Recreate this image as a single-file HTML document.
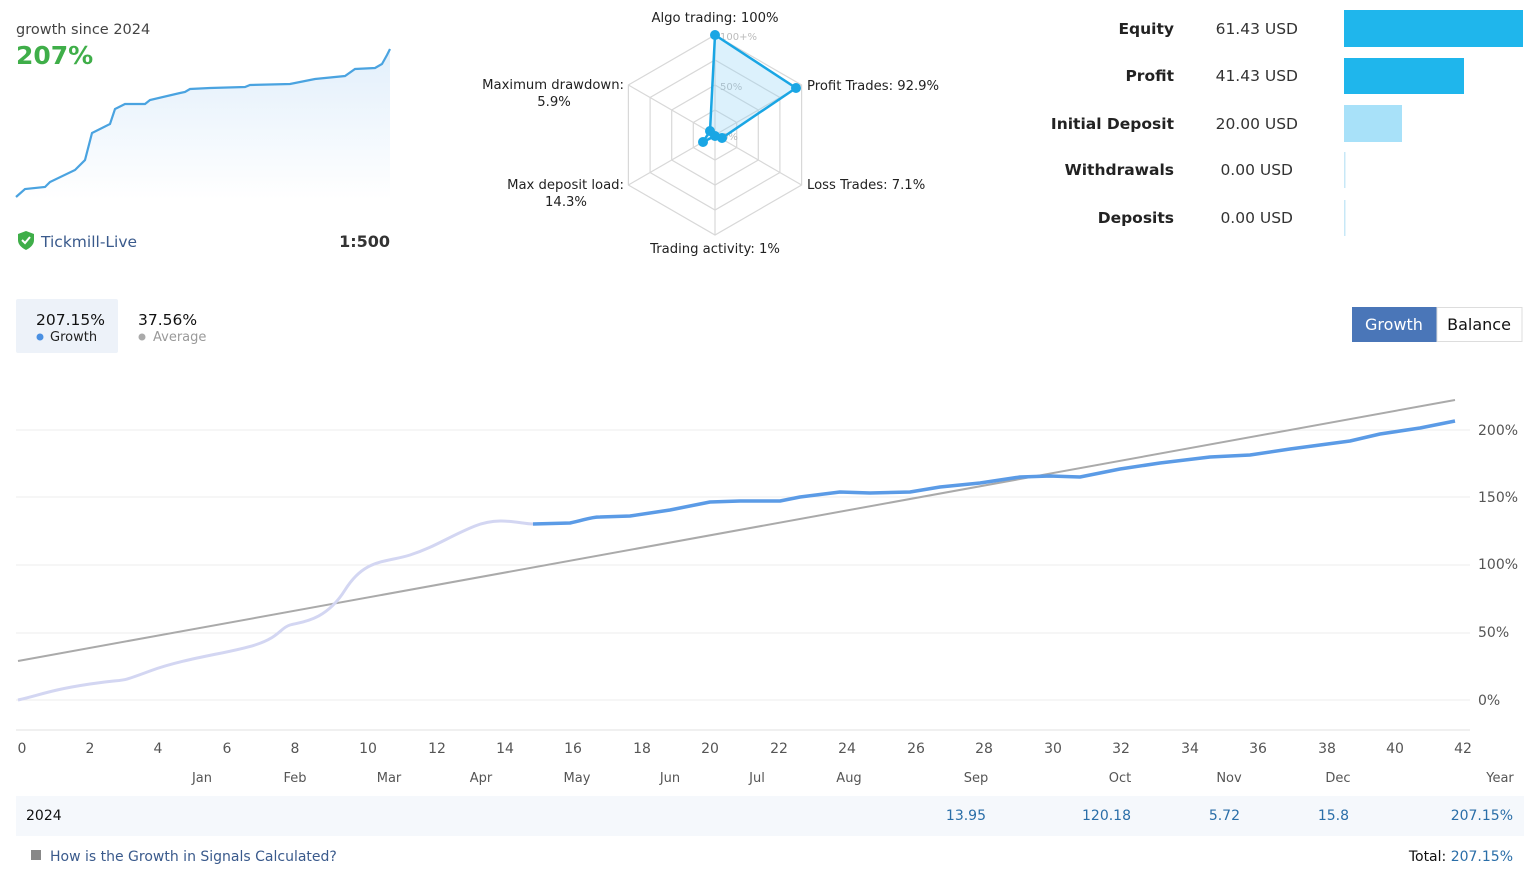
<!DOCTYPE html>
<html><head><meta charset="utf-8"><style>
html,body{margin:0;padding:0;background:#fff;width:1536px;height:872px;overflow:hidden}
svg{position:absolute;left:0;top:0}
text{font-family:"DejaVu Sans","Liberation Sans",sans-serif}
</style></head><body>
<svg width="1536" height="872" viewBox="0 0 1536 872" xmlns="http://www.w3.org/2000/svg">
<defs>
<linearGradient id="mg" x1="0" y1="0" x2="0" y2="1"><stop offset="0" stop-color="#e2effb"/><stop offset="1" stop-color="#ffffff"/></linearGradient>
</defs>
<!-- top-left -->
<text x="16" y="34" font-size="14.5" fill="#444">growth since 2024</text>
<text x="16" y="64" font-size="25" font-weight="bold" fill="#3fae49">207%</text>
<path d="M16,197 L25,189 45,187 50,182 75,170 85,160 92,133 110,124 115,109 125,104 145,104 150,100 180,93 185,92 190,89 210,88 245,87 250,85 290,84 310,80 315,79 345,76 355,69 375,68 382,64 387,55 390,49 L390,200 L16,200Z" fill="url(#mg)"/>
<path d="M16,197 L25,189 45,187 50,182 75,170 85,160 92,133 110,124 115,109 125,104 145,104 150,100 180,93 185,92 190,89 210,88 245,87 250,85 290,84 310,80 315,79 345,76 355,69 375,68 382,64 387,55 390,49" fill="none" stroke="#4aa3e0" stroke-width="2.2"/>
<path d="M18,234 L26,231 34,234 L34,240 Q34,246 26,250 Q18,246 18,240Z" fill="#3fae49"/>
<path d="M22,240 L25,243 30,237" stroke="#fff" stroke-width="2" fill="none"/>
<text x="41" y="247" font-size="15.5" fill="#3a5a8c">Tickmill-Live</text>
<text x="390" y="247" font-size="16" font-weight="bold" fill="#333" text-anchor="end">1:500</text>
<!-- radar -->
<g fill="none" stroke="#d8d8d8" stroke-width="1.2">
<polygon points="715,35 801.6,85 801.6,185 715,235 628.4,185 628.4,85"/>
<polygon points="715,60 779.9,97.5 779.9,172.5 715,210 650.1,172.5 650.1,97.5"/>
<polygon points="715,85 758.3,110 758.3,160 715,185 671.7,160 671.7,110"/>
<polygon points="715,110 736.7,122.5 736.7,147.5 715,160 693.3,147.5 693.3,122.5"/>
<path d="M715,35V235M628.4,85L801.6,185M801.6,85L628.4,185"/>
</g>
<text x="720" y="40" font-size="10" fill="#bbb">100+%</text>
<text x="720" y="90" font-size="10" fill="#bbb">50%</text>
<text x="722" y="140" font-size="10" fill="#bbb">0%</text>
<polygon points="715,35 796,88 722,138 715,136 703,142 710,131" fill="rgba(140,210,245,0.3)" stroke="#1aa6e4" stroke-width="2.5"/>
<g fill="#1aa6e4"><circle cx="715" cy="35" r="5"/><circle cx="796" cy="88" r="5"/><circle cx="722" cy="138" r="5"/><circle cx="715" cy="136" r="5"/><circle cx="703" cy="142" r="5"/><circle cx="710" cy="131" r="5"/></g>
<g font-size="13.2" fill="#222">
<text x="715" y="22" text-anchor="middle">Algo trading: 100%</text>
<text x="807" y="90">Profit Trades: 92.9%</text>
<text x="807" y="189">Loss Trades: 7.1%</text>
<text x="715" y="253" text-anchor="middle">Trading activity: 1%</text>
<text x="624" y="89" text-anchor="end">Maximum drawdown:</text>
<text x="554" y="106" text-anchor="middle">5.9%</text>
<text x="624" y="189" text-anchor="end">Max deposit load:</text>
<text x="566" y="206" text-anchor="middle">14.3%</text>
</g>
<!-- right stats -->
<g font-size="15.5" fill="#222">
<text x="1174" y="34" text-anchor="end" font-weight="600">Equity</text>
<text x="1174" y="81" text-anchor="end" font-weight="600">Profit</text>
<text x="1174" y="129" text-anchor="end" font-weight="600">Initial Deposit</text>
<text x="1174" y="175" text-anchor="end" font-weight="600">Withdrawals</text>
<text x="1174" y="223" text-anchor="end" font-weight="600">Deposits</text>
<text x="1298" y="34" text-anchor="end" fill="#333">61.43 USD</text>
<text x="1298" y="81" text-anchor="end" fill="#333">41.43 USD</text>
<text x="1298" y="129" text-anchor="end" fill="#333">20.00 USD</text>
<text x="1293" y="175" text-anchor="end" fill="#333">0.00 USD</text>
<text x="1293" y="223" text-anchor="end" fill="#333">0.00 USD</text>
</g>
<rect x="1344" y="10" width="179" height="37" fill="#1fb6ec"/>
<rect x="1344" y="58" width="120" height="36" fill="#1fb6ec"/>
<rect x="1344" y="105" width="58" height="37" fill="#a8e1f9"/>
<rect x="1344" y="152" width="1.5" height="36" fill="#c8e8f7"/>
<rect x="1344" y="200" width="1.5" height="36" fill="#c8e8f7"/>
<!-- legend tabs -->
<rect x="16" y="299" width="102" height="54" fill="#edf2f9" rx="2"/>
<text x="36" y="325" font-size="15.5" fill="#111">207.15%</text>
<circle cx="40" cy="337" r="3.5" fill="#4a90e2"/>
<text x="50" y="341" font-size="13" fill="#222">Growth</text>
<text x="138" y="325" font-size="15.5" fill="#111">37.56%</text>
<circle cx="142" cy="337" r="3.5" fill="#aaa"/>
<text x="153" y="341" font-size="13" fill="#999">Average</text>
<rect x="1352" y="307" width="85" height="35" fill="#4a76b8"/>
<rect x="1437" y="307.5" width="85" height="34" fill="#fff" stroke="#ddd"/>
<text x="1394" y="330" font-size="16" fill="#fff" text-anchor="middle">Growth</text>
<text x="1479" y="330" font-size="16" fill="#111" text-anchor="middle">Balance</text>
<!-- grid -->
<g stroke="#ececec" stroke-width="1">
<path d="M16,430H1470M16,497H1470M16,565H1470M16,633H1470M16,700H1470"/>
</g>
<path d="M16,730H1470" stroke="#f0f0f0" stroke-width="2"/>
<g font-size="14" fill="#555">
<text x="1478" y="435">200%</text><text x="1478" y="502">150%</text><text x="1478" y="569">100%</text><text x="1478" y="637">50%</text><text x="1478" y="705">0%</text>
</g>
<path d="M18,661 L1455,400" stroke="#aaa" stroke-width="2" fill="none"/>
<path d="M18,700 C40,695 50,690 90,684 S115,684 150,671 S230,653 255,645 S280,628 290,625 S325,622 345,590 S385,563 410,555 S450,536 475,526 S520,524 533,524" fill="none" stroke="#d3d6f2" stroke-width="3"/>
<path d="M533,524 L570,523 C585,520 590,517 600,517 L630,516 L670,510 L710,502 L740,501 L780,501 L800,497 L840,492 L870,493 L910,492 L940,487 L980,483 L1020,477 L1050,476 L1080,477 L1120,469 L1160,463 L1210,457 L1250,455 L1290,449 L1350,441 L1380,434 L1420,428 L1455,421" fill="none" stroke="#5b9be6" stroke-width="3.5" stroke-linejoin="round"/>
<!-- x axis -->
<g font-size="14" fill="#555" text-anchor="middle">
<text x="22" y="753">0</text><text x="90" y="753">2</text><text x="158" y="753">4</text><text x="227" y="753">6</text><text x="295" y="753">8</text><text x="368" y="753">10</text><text x="437" y="753">12</text><text x="505" y="753">14</text><text x="573" y="753">16</text><text x="642" y="753">18</text><text x="710" y="753">20</text><text x="779" y="753">22</text><text x="847" y="753">24</text><text x="916" y="753">26</text><text x="984" y="753">28</text><text x="1053" y="753">30</text><text x="1121" y="753">32</text><text x="1190" y="753">34</text><text x="1258" y="753">36</text><text x="1327" y="753">38</text><text x="1395" y="753">40</text><text x="1463" y="753">42</text>
</g>
<g font-size="13" fill="#555" text-anchor="middle">
<text x="202" y="782">Jan</text><text x="295" y="782">Feb</text><text x="389" y="782">Mar</text><text x="481" y="782">Apr</text><text x="577" y="782">May</text><text x="670" y="782">Jun</text><text x="757" y="782">Jul</text><text x="849" y="782">Aug</text><text x="976" y="782">Sep</text><text x="1120" y="782">Oct</text><text x="1229" y="782">Nov</text><text x="1338" y="782">Dec</text><text x="1500" y="782">Year</text>
</g>
<rect x="16" y="796" width="1508" height="40" fill="#f5f8fc"/>
<text x="26" y="820" font-size="14" fill="#111">2024</text>
<g font-size="14" fill="#2a6ea8" text-anchor="end">
<text x="986" y="820">13.95</text><text x="1131" y="820">120.18</text><text x="1240" y="820">5.72</text><text x="1349" y="820">15.8</text><text x="1513" y="820">207.15%</text>
</g>
<rect x="31" y="850" width="10" height="10" fill="#888"/>
<text x="50" y="861" font-size="14" fill="#3a5a8c">How is the Growth in Signals Calculated?</text>
<text x="1513" y="861" font-size="14" text-anchor="end" fill="#111">Total: <tspan fill="#2a6ea8">207.15%</tspan></text>
</svg>
</body></html>
